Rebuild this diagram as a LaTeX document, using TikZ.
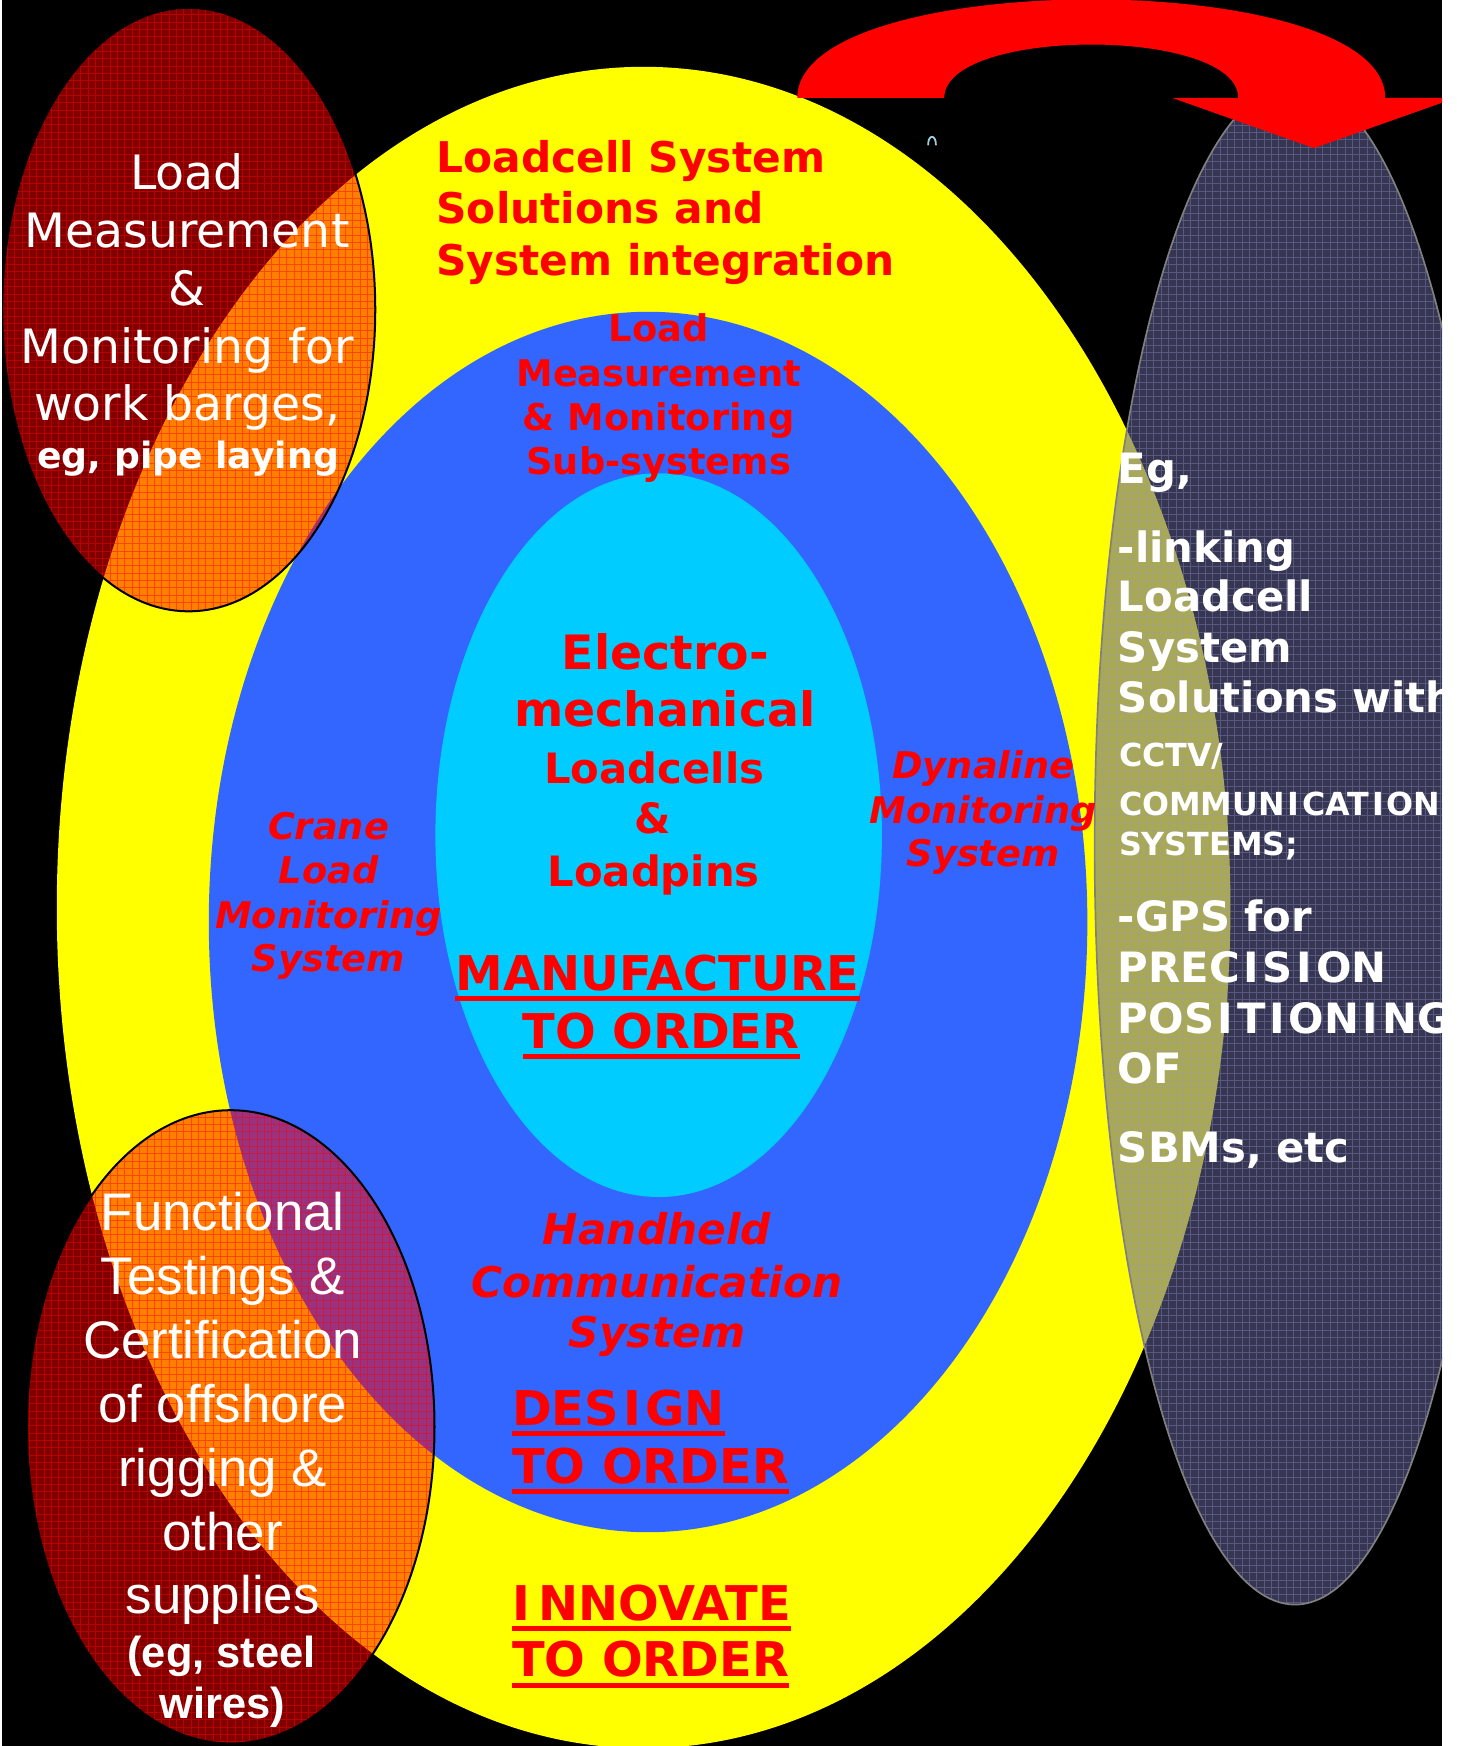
\documentclass[tikz,border=0pt]{standalone}
\usepackage{fontspec}
\setmainfont{DejaVu Sans}[BoldFont={DejaVu Sans Bold},ItalicFont={DejaVu Sans Oblique},BoldItalicFont={DejaVu Sans Bold Oblique}]
\newfontfamily\arialfam{Liberation Sans}
\newcommand\setfs[1]{\fontsize{#1}{#1}\selectfont}
\newcommand\wI{\kern0.09em I\kern0.09em}
\newcommand\ulbox[1]{\setbox0=\hbox{#1}\rlap{\rule[-9.5pt]{\wd0}{4.5pt}}\box0}
\definecolor{cYellow}{RGB}{255,255,0}
\definecolor{cBlue}{RGB}{51,102,255}
\definecolor{cCyan}{RGB}{0,204,255}
\definecolor{cNavy}{RGB}{100,100,152}
\definecolor{cNavyGrid}{RGB}{150,150,210}
\definecolor{cGlyph}{RGB}{160,205,220}
\definecolor{cRim}{RGB}{128,128,128}
\begin{document}
\begin{tikzpicture}[x=1pt,y=-1pt,
  txt/.style={anchor=base,inner sep=0pt,outer sep=0pt},
  tlw/.style={txt,text=white,font=\setfs{42.5}},
  tlb/.style={txt,text=white,font=\bfseries\setfs{32.5}},
  redb/.style={txt,text=red,font=\bfseries\setfs{#1}},
  redbi/.style={txt,text=red,font=\bfseries\itshape\setfs{#1}},
  blw/.style={txt,text=white,font=\arialfam\setfs{47.5}},
  blb/.style={txt,text=white,font=\arialfam\bfseries\setfs{39}},
  rtw/.style={txt,anchor=base west,text=white,font=\bfseries\setfs{#1}},
  redrim/.style={draw=black,line width=1.8pt},
  redgrid/.style={red,opacity=0.45,line width=0.8pt},
  navygrid/.style={cNavyGrid,opacity=0.35,line width=0.7pt},
]
\useasboundingbox (0,0) rectangle (1307.6,1568);
\fill[white] (0,0) rectangle (1307.6,1568);
\begin{scope}
\clip (2,0) rectangle (1295,1568);
\fill[black] (2,0) rectangle (1295,1568);

% nested ellipses
\fill[cYellow] (578,815) ellipse [x radius=527, y radius=755];
\fill[cBlue] (582,828) ellipse [x radius=394.5, y radius=548];
\fill[cCyan] (591.5,750) ellipse [x radius=200.5, y radius=325];

% translucent red ellipses
\foreach \cx/\cy/\rx/\ry in {169.5/278/167.5/271, 207.2/1281.4/183/284.4} {
  \fill[red,fill opacity=0.5] (\cx,\cy) ellipse [x radius=\rx, y radius=\ry];
  \begin{scope}
    \clip (\cx,\cy) ellipse [x radius=\rx, y radius=\ry];
    \draw[redgrid,step=6.6pt] ({\cx-\rx},{\cy-\ry}) grid ({\cx+\rx},{\cy+\ry});
  \end{scope}
  \draw[redrim] (\cx,\cy) ellipse [x radius=\rx, y radius=\ry];
}

% translucent right ellipse
\fill[cNavy,fill opacity=0.55] (1163,758) ellipse [x radius=180, y radius=683];
\begin{scope}
  \clip (1163,758) ellipse [x radius=180, y radius=683];
  \draw[navygrid,step=6.6pt] (983,75) grid (1343,1441);
\end{scope}
\draw[cRim,line width=1.5pt] (1163,758) ellipse [x radius=180, y radius=683];

% curved red arrow
\fill[red] (716,88) .. controls (716,-30) and (1244,-30) .. (1244,88)
  -- (1307,88) -- (1180,133) -- (1053,88) -- (1112,88)
  .. controls (1112,24) and (848,24) .. (848,88) -- cycle;

% small stray glyph
\draw[cGlyph,line width=1.6pt,line cap=round] (833.5,130) .. controls (833.5,120.5) and (840.5,120.5) .. (840.5,130);

% top-left ellipse text
\foreach \t [count=\i from 0] in {Load,Measurement,\&,Monitoring for,{work barges,}}
  \node[tlw] (tl\i) at (168,{170+52*\i}) {\t};
\node[tlb] (tl5) at (169,420.5) {eg, pipe laying};

% yellow ring text
\foreach \t/\y [count=\i] in {Loadcell System/155, Solutions and/201, System integration/247}
  \node[redb=38,anchor=base west] (ls\i) at (392,\y) {\t};

% blue ring texts
\foreach \t/\y [count=\i] in {Load/307, Measurement/347, \& Monitoring/387, Sub-systems/426}
  \node[redb=33] (sub\i) at (591.5,\y) {\t};
\foreach \t/\y [count=\i] in {Crane/753.8, Load/793.3, Monitoring/833.7, System/872.6}
  \node[redbi=33] (cr\i) at (295,\y) {\t};
\foreach \t/\y [count=\i] in {Dynaline/699, Monitoring/739.4, System/778}
  \node[redbi=33] (dy\i) at (883,\y) {\t};
\foreach \t/\y [count=\i] in {Handheld/1118, Communication/1164.8, System/1209.8}
  \node[redbi=38] (hh\i) at (590,\y) {\t};

% core texts
\node[redb=42.5] (em1) at (597.5,601) {Electro-};
\node[redb=42.5] (em2) at (597,652.6) {mechanical};
\node[redb=37.5] (em3) at (587.5,704) {Loadcells};
\node[redb=37.5] (em4) at (586.5,748.4) {\&};
\node[redb=37.5] (em5) at (587,795.7) {Loadpins};
\node[redb=43] (mo1) at (590.5,889.7) {\ulbox{MANUFACTURE}};
\node[redb=43] (mo2) at (593.7,941.5) {\ulbox{TO ORDER}};

% design / innovate
\node[redb=43,anchor=base west] (do1) at (460,1280.2) {\ulbox{DES\wI GN}};
\node[redb=43,anchor=base west] (do2) at (460,1331.8) {\ulbox{TO ORDER}};
\node[redb=43,anchor=base west] (io1) at (460,1455) {\ulbox{I\kern0.18em NNOVATE}};
\node[redb=43,anchor=base west] (io2) at (460,1506) {\ulbox{TO ORDER}};

% bottom-left ellipse text
\foreach \t [count=\i from 0] in {Functional,Testings \&,Certification,of offshore,rigging \&,other,supplies}
  \node[blw] (fn\i) at (200,{1105+57.4*\i}) {\t};
\node[blb] (fn7) at (199,1497.8) {(eg, steel};
\node[blb] (fn8) at (200,1543) {wires)};

% right ellipse text
\node[rtw=37.5] (r1) at (1004,434) {Eg,};
\node[rtw=37.5] (r2) at (1004,505) {-linking};
\node[rtw=37.5] (r3) at (1004,549.5) {Loadcell};
\node[rtw=37.5] (r4) at (1004,595) {System};
\node[rtw=37.5] (r5) at (1004,640) {Solutions with};
\node[rtw=28.5] (r6) at (1005,688) {CCTV/};
\node[rtw=28.5] (r7) at (1005,732.5) {COMMUN\wI CAT\wI ONS};
\node[rtw=28.5] (r8) at (1005,768.5) {SYSTEMS;};
\node[rtw=37.5] (r9) at (1004,836.5) {-GPS for};
\node[rtw=37.5] (r10) at (1004,882) {PREC\wI S\wI ON};
\node[rtw=37.5] (r11) at (1004,928) {POS\wI T\wI ON\wI NG};
\node[rtw=37.5] (r12) at (1004,973) {OF};
\node[rtw=37.5] (r13) at (1004,1044) {SBMs, etc};
\end{scope}
\end{tikzpicture}
\end{document}
